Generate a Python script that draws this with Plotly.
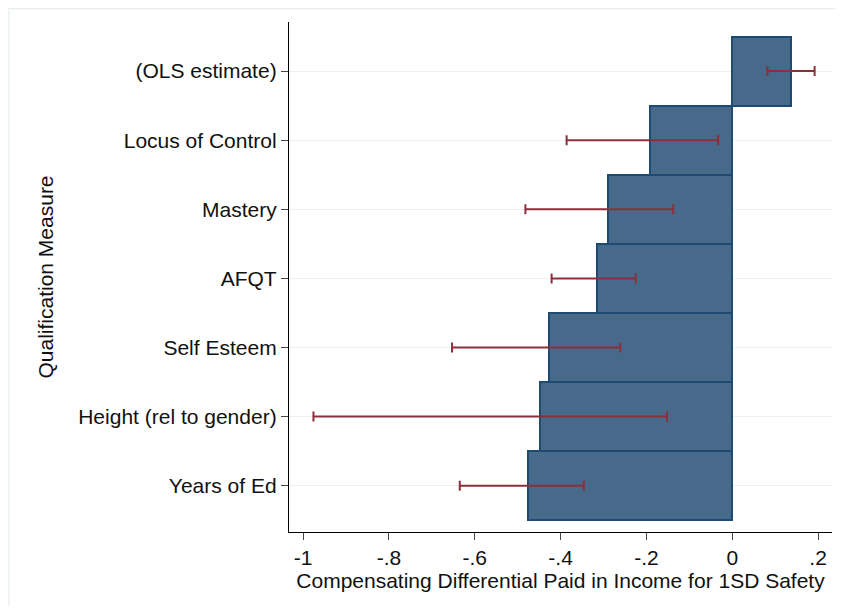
import plotly.graph_objects as go

categories = ["Years of Ed", "Height (rel to gender)", "Self Esteem", "AFQT",
              "Mastery", "Locus of Control", "(OLS estimate)"]
estimates = [-0.475, -0.448, -0.428, -0.316, -0.290, -0.191, 0.136]
ci_low = [-0.635, -0.976, -0.653, -0.421, -0.482, -0.386, 0.082]
ci_high = [-0.346, -0.152, -0.261, -0.225, -0.1375, -0.033, 0.192]
x_ticks = [-1, -0.8, -0.6, -0.4, -0.2, 0, 0.2]
x_tick_text = ["-1", "-.8", "-.6", "-.4", "-.2", "0", ".2"]

# page has an 8px body margin, so the figure is offset by (8, 8)
W, H = 827, 598
L, R, T, B = 281, 3, 14, 74

FONT = "Liberation Sans, Arial, Helvetica, sans-serif"
FS = 21
BAR = "#476a8b"
BAR_LINE = "#1f4a73"
ERR = "#8c2f3a"

fig = go.Figure()
fig.add_trace(go.Bar(
    y=categories, x=estimates, orientation="h",
    marker=dict(color=BAR, line=dict(color=BAR_LINE, width=2)),
    showlegend=False, hoverinfo="skip",
))
mid = [(a + b) / 2 for a, b in zip(ci_low, ci_high)]
fig.add_trace(go.Scatter(
    y=categories, x=mid, mode="markers",
    marker=dict(size=0.1, color="rgba(0,0,0,0)"),
    error_x=dict(type="data", symmetric=False,
                 array=[h - m for h, m in zip(ci_high, mid)],
                 arrayminus=[m - l for l, m in zip(ci_low, mid)],
                 color=ERR, thickness=2, width=5),
    showlegend=False, hoverinfo="skip",
))

pw = W - L - R
ph = H - T - B
def px_to_paper_x(p):
    return (p - L) / pw
def py_to_paper_y(p):
    return 1 - (p - T) / ph

# faint outer frame of the graph region
fig.add_shape(type="line", xref="paper", yref="paper",
              x0=px_to_paper_x(1), x1=px_to_paper_x(1),
              y0=py_to_paper_y(0), y1=py_to_paper_y(H),
              line=dict(color="#e6eeee", width=1.2), layer="below")
fig.add_shape(type="line", xref="paper", yref="paper",
              x0=px_to_paper_x(1), x1=px_to_paper_x(W),
              y0=py_to_paper_y(0.6), y1=py_to_paper_y(0.6),
              line=dict(color="#e6eeee", width=1.2), layer="below")

fig.update_layout(
    width=W, height=H,
    margin=dict(l=L, r=R, t=T, b=B, pad=0),
    paper_bgcolor="white", plot_bgcolor="white",
    bargap=0,
    font=dict(family=FONT, size=FS, color="#111111"),
    xaxis=dict(
        range=[-1.033, 0.2325],
        tickvals=x_ticks, ticktext=x_tick_text,
        showgrid=False, zeroline=False,
        showline=True, linecolor="black", linewidth=1.3,
        ticks="outside", ticklen=7, tickcolor="#444", tickwidth=1.3,
        title=dict(text="Compensating Differential Paid in Income for 1SD Safety",
                   font=dict(size=FS), standoff=2),
        tickfont=dict(size=FS),
    ),
    yaxis=dict(
        type="category",
        range=[-0.67, 6.71],
        showgrid=True, gridcolor="#eaf0f4", gridwidth=1.3,
        zeroline=False,
        showline=True, linecolor="black", linewidth=1.3,
        ticks="outside", ticklen=7, tickcolor="#444", tickwidth=1.3,
        title=dict(text="Qualification Measure", font=dict(size=FS), standoff=18),
        tickfont=dict(size=FS),
    ),
)

fig.write_html("out.html")
